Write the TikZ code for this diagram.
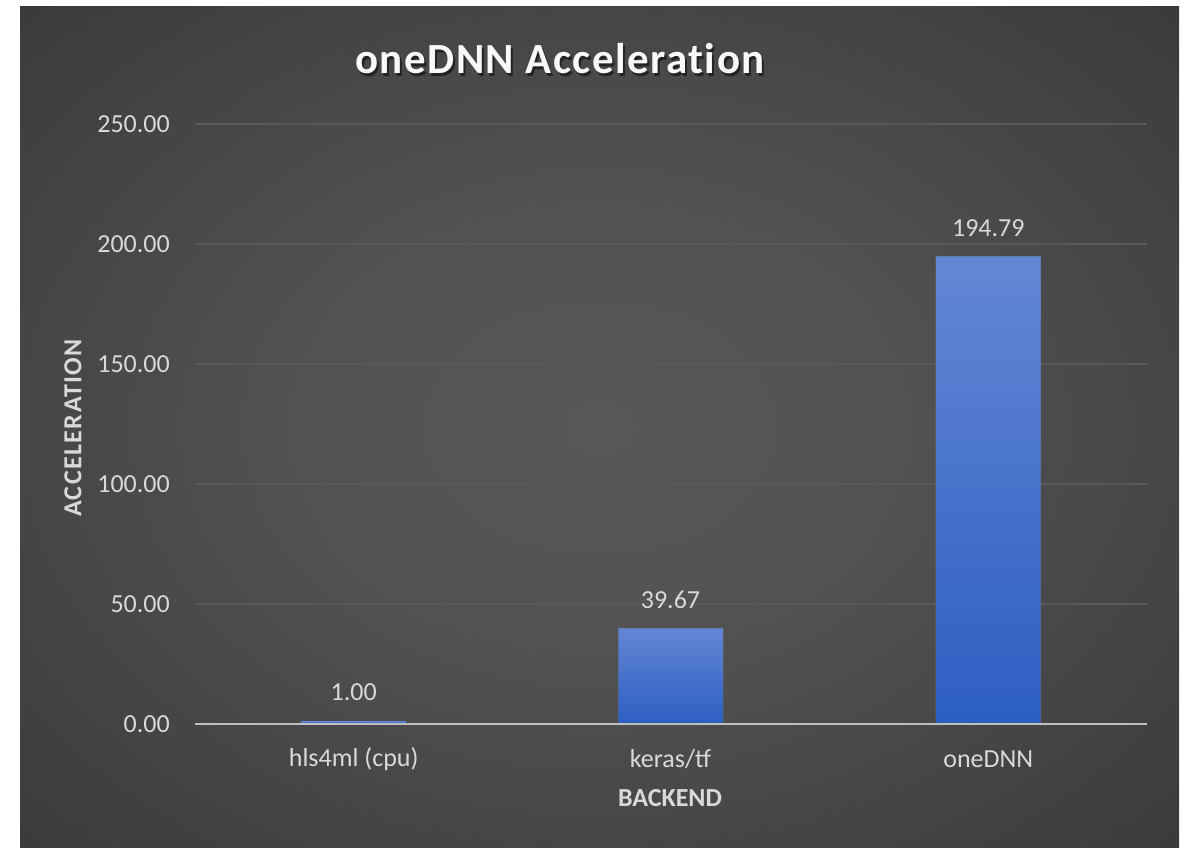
\documentclass[tikz,border=0pt]{standalone}
\usepackage{fontspec}
\setmainfont{Carlito}
\newfontfamily\titlefont[LetterSpace=3.5,Ligatures=NoCommon]{Carlito}
\newfontfamily\spacedfont[LetterSpace=5.5]{Carlito}
\usetikzlibrary{shadings}
\definecolor{bgin}{HTML}{575757}
\definecolor{bgout}{HTML}{262626}
\definecolor{gridc}{HTML}{595959}
\definecolor{axisc}{HTML}{BFBFBF}
\definecolor{txtc}{HTML}{D9D9D9}
\definecolor{bartop}{HTML}{6487D4}
\definecolor{barbot}{HTML}{2C5EC2}
\pgfdeclareradialshading{bgshade}{\pgfpoint{0bp}{0bp}}{color(0bp)=(bgin); color(12bp)=(bgin!92!bgout); color(55bp)=(bgout); color(80bp)=(bgout)}
\tikzset{
  gridline/.style={draw=gridc, line width=1.6pt},
  axisline/.style={draw=axisc, line width=2.6pt},
  ticklbl/.style={anchor=east, text=txtc, inner sep=0pt, font=\fontsize{26}{30}\selectfont},
  catlbl/.style={text=txtc, inner sep=0pt, font=\fontsize{26}{30}\selectfont},
  datalbl/.style={anchor=base, text=txtc, inner sep=0pt, font=\fontsize{26}{30}\selectfont},
  axtitle/.style={text=txtc, inner sep=0pt, font=\bfseries\fontsize{26}{30}\selectfont},
  barbox/.style={anchor=south, inner sep=0pt, minimum width=105pt, top color=bartop, bottom color=barbot, draw=black!60, draw opacity=0.35, line width=1pt},
  titlestyle/.style={font=\titlefont\bfseries\fontsize{43}{52}\selectfont},
}
\begin{document}
\begin{tikzpicture}[x=1pt, y=-1pt]
\useasboundingbox (0,0) rectangle (1188,848);
\fill[white] (0,0) rectangle (1188,848);
\shade[shading=bgshade] (20,7) rectangle (1179,848);
% grid
\foreach \v/\yy in {250/124, 200/244, 150/364, 100/484, 50/604} {
  \coordinate (gl\v) at (195,\yy);
  \coordinate (gr\v) at (1147,\yy);
  \draw[gridline] (gl\v) -- (gr\v);
}
\node[ticklbl] (t250) at (170,124) {250.00};
\node[ticklbl] (t200) at (170,244) {200.00};
\node[ticklbl] (t150) at (170,364) {150.00};
\node[ticklbl] (t100) at (170,484) {100.00};
\node[ticklbl] (t50) at (170,604) {50.00};
\node[ticklbl] (t0) at (170,724) {0.00};
% bars
\node[barbox, minimum height=2.4pt, draw=none] (b1) at (353.7,724) {};
\node[barbox, minimum height=95.2pt] (b2) at (670.5,724) {};
\node[barbox, minimum height=467.5pt] (b3) at (988.3,724) {};
% axis
\coordinate (al) at (195,724);
\coordinate (ar) at (1147,724);
\draw[axisline] (al) -- (ar);
% data labels
\node[datalbl] (d1) at ([yshift=20pt]b1.north) {1.00};
\node[datalbl] (d2) at ([yshift=19pt]b2.north) {39.67};
\node[datalbl] (d3) at ([yshift=19pt]b3.north) {194.79};
% category labels
\node[catlbl] (c1) at (353.7,759) {hls4ml (cpu)};
\node[catlbl] (c2) at (670.5,759) {keras/tf};
\node[catlbl] (c3) at (988.3,759) {oneDNN};
% axis titles
\node[axtitle] (xt) at (670,798) {BACKEND};
\node[axtitle, font=\spacedfont\bfseries\fontsize{26}{30}\selectfont, rotate=90] (yt) at (73,428) {ACCELERATION};
% title
\node[titlestyle, text=black, opacity=0.5] (tsh) at (562,61.5) {oneDNN Acceleration};
\node[titlestyle, text=white!95!gray] (title) at (560,59) {oneDNN Acceleration};
\end{tikzpicture}
\end{document}
